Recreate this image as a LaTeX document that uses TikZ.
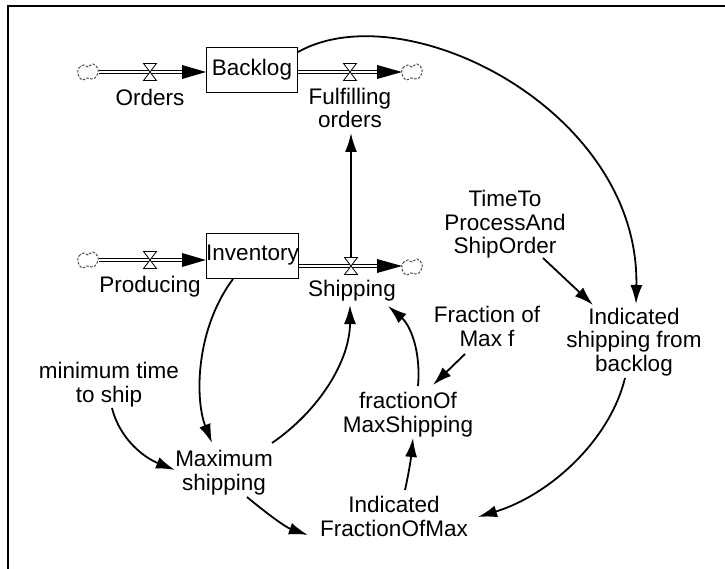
\documentclass[tikz,border=0pt]{standalone}
\usepackage{fontspec}
\setmainfont{Liberation Sans}
\usetikzlibrary{arrows.meta}
\begin{document}
\begin{tikzpicture}[x=1pt,y=-1pt,
  lbl/.style={font=\fontsize{22.5}{23.5}\selectfont, align=center, inner sep=0pt, anchor=base},
  stock/.style={draw, line width=0.8pt, minimum width=91pt, minimum height=45pt, inner sep=0pt, font=\fontsize{22.5}{23.5}\selectfont},
  infl/.style={line width=1.8pt, -{Latex[length=19pt,width=12pt]}},
  pipe/.style={double, double distance=2.6pt, line width=0.8pt},
  cloudpic/.pic={\draw[line width=1pt, black!70, dash pattern=on 2.5pt off 1.5pt]
     plot[smooth cycle, tension=0.8] coordinates {(-10,2) (-9,-4) (-4,-7) (0,-5) (5,-8) (10,-3) (9,3) (5,7) (-1,6) (-6,8)};},
  valvepic/.pic={\filldraw[fill=white, line width=0.8pt] (-6.5,-8.5) -- (6.5,-8.5) -- (-6.5,8.5) -- (6.5,8.5) -- cycle;},
]
\useasboundingbox (0,0) rectangle (725,569);
% frame
\draw[line width=2pt] (8,569) -- (8,6) -- (725,6);

% stocks
\node[stock] (backlog) at (252,69.5) {Backlog};
\node[stock] (inventory) at (252.5,255.5) {Inventory};

% clouds
\pic at (88,72) {cloudpic};
\coordinate (cOrdersSrc) at (99,72);
\pic at (412,72) {cloudpic};
\coordinate (cFulfSink) at (402,72);
\pic at (88,260) {cloudpic};
\coordinate (cProdSrc) at (99,260);
\pic at (412,267) {cloudpic};
\coordinate (cShipSink) at (402,266);

% pipes
\draw[pipe] (cOrdersSrc) -- (184,72);
\fill (182,65) -- (backlog.west |- 0,72) -- (182,79) -- cycle;
\draw[pipe] (backlog.east |- 0,72) -- (379,72);
\fill (377,65) -- (cFulfSink) -- (377,79) -- cycle;
\draw[pipe] (cProdSrc) -- (184,260);
\fill (182,253) -- (inventory.west |- 0,260) -- (182,267) -- cycle;
\draw[pipe] (inventory.east |- 0,266) -- (379,266);
\fill (377,259) -- (cShipSink) -- (377,273) -- cycle;

% valves
\pic at (150,72) {valvepic};
\pic at (350,72) {valvepic};
\pic at (150,260) {valvepic};
\pic at (351,266) {valvepic};
\coordinate (vShipTop) at (351,257.5);

% labels (anchor = baseline of last line)
\node[lbl] (orders) at (150,106) {Orders};
\node[lbl] (fulfilling) at (350,128) {Fulfilling\\orders};
\node[lbl] (producing) at (150,292) {Producing};
\node[lbl] (shipping) at (352,296) {Shipping};
\node[lbl] (timeto) at (505,254) {TimeTo\\ProcessAnd\\ShipOrder};
\node[lbl] (indship) at (634,371) {Indicated\\shipping from\\backlog};
\node[lbl] (fracmaxf) at (487,346) {Fraction of\\Max f};
\node[lbl] (fracofmax) at (408,432) {fractionOf\\MaxShipping};
\node[lbl] (mintime) at (109,402) {minimum time\\to ship};
\node[lbl] (maxship) at (224,490) {Maximum\\shipping};
\node[lbl] (indfrac) at (394,536) {Indicated\\FractionOfMax};

% influence arrows
\draw[infl] (298,52) .. controls (405,-8) and (640,110) .. (636,304);
\draw[infl] (vShipTop) -- (351,133);
\draw[infl] (543,258) -- (593,305);
\draw[infl] (465,354) -- (433,385);
\draw[infl] (418,386) .. controls (421,350) and (410,325) .. (388,306);
\draw[infl] (405,490) .. controls (409,472) and (411,458) .. (413,438);
\draw[infl] (625,378) .. controls (610,440) and (550,495) .. (478,517);
\draw[infl] (233,279) .. controls (195,330) and (195,400) .. (212,443);
\draw[infl] (272,443) .. controls (320,410) and (350,360) .. (350,305);
\draw[infl] (112,408) .. controls (120,440) and (145,458) .. (175,470);
\draw[infl] (247,497) .. controls (265,512) and (285,527) .. (308,535);
\end{tikzpicture}
\end{document}
